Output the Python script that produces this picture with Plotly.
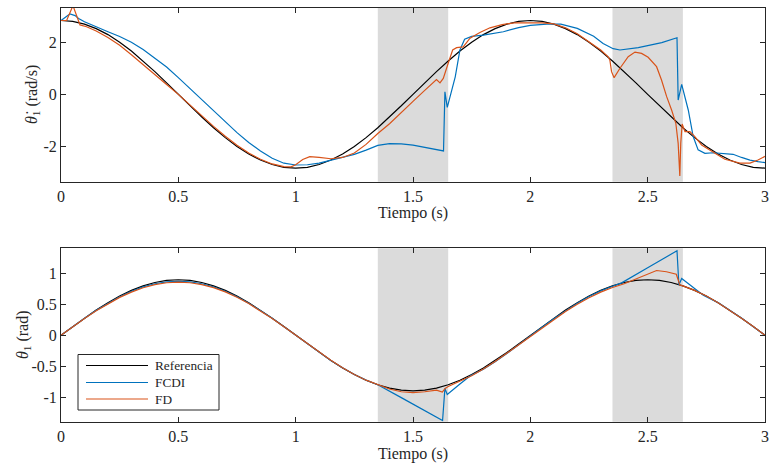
import plotly.graph_objects as go

# ---------------- data ----------------
t_ref = [0.00, 0.05, 0.10, 0.15, 0.20, 0.25, 0.30, 0.35, 0.40, 0.45, 0.50, 0.55, 0.60, 0.65, 0.70,
         0.75, 0.80, 0.85, 0.90, 0.95, 1.00, 1.05, 1.10, 1.15, 1.20, 1.25, 1.30, 1.35, 1.40, 1.45,
         1.50, 1.55, 1.60, 1.65, 1.70, 1.75, 1.80, 1.85, 1.90, 1.95, 2.00, 2.05, 2.10, 2.15, 2.20,
         2.25, 2.30, 2.35, 2.40, 2.45, 2.50, 2.55, 2.60, 2.65, 2.70, 2.75, 2.80, 2.85, 2.90, 2.95, 3.00]

ref_vel = [2.83, 2.80, 2.69, 2.52, 2.29, 2.00, 1.66, 1.28, 0.87, 0.44, 0.00, -0.44, -0.87, -1.28, -1.66,
           -2.00, -2.29, -2.52, -2.69, -2.80, -2.83, -2.80, -2.69, -2.52, -2.29, -2.00, -1.66, -1.28, -0.87, -0.44,
           0.00, 0.44, 0.87, 1.28, 1.66, 2.00, 2.29, 2.52, 2.69, 2.80, 2.83, 2.80, 2.69, 2.52, 2.29,
           2.00, 1.66, 1.28, 0.87, 0.44, 0.00, -0.44, -0.87, -1.28, -1.66, -2.00, -2.29, -2.52, -2.69, -2.80, -2.83]

ref_pos = [0.000, 0.141, 0.278, 0.409, 0.529, 0.636, 0.728, 0.802, 0.856, 0.889, 0.900, 0.889, 0.856, 0.802, 0.728,
           0.636, 0.529, 0.409, 0.278, 0.141, 0.000, -0.141, -0.278, -0.409, -0.529, -0.636, -0.728, -0.802, -0.856, -0.889,
           -0.900, -0.889, -0.856, -0.802, -0.728, -0.636, -0.529, -0.409, -0.278, -0.141, 0.000, 0.141, 0.278, 0.409, 0.529,
           0.636, 0.728, 0.802, 0.856, 0.889, 0.900, 0.889, 0.856, 0.802, 0.728, 0.636, 0.529, 0.409, 0.278, 0.141, 0.000]

t_fcdi_vel = [0, 0.02, 0.038, 0.06, 0.075, 0.10, 0.15, 0.20, 0.25, 0.30, 0.35, 0.40, 0.45, 0.50, 0.55, 0.60,
              0.65, 0.70, 0.75, 0.80, 0.85, 0.90, 0.95, 1.00, 1.05, 1.10, 1.15, 1.20, 1.25, 1.30, 1.35, 1.40,
              1.45, 1.50, 1.55, 1.60, 1.63, 1.636, 1.646, 1.68, 1.70, 1.72, 1.75, 1.80, 1.885, 1.95, 2.00,
              2.07, 2.13, 2.20, 2.27, 2.31, 2.353, 2.382, 2.46, 2.56, 2.625, 2.630, 2.645, 2.673, 2.694,
              2.715, 2.744, 2.78, 2.81, 2.864, 2.90, 2.936, 2.97, 3.00]
fcdi_vel = [2.83, 2.95, 3.08, 3.02, 2.91, 2.78, 2.58, 2.40, 2.22, 2.00, 1.72, 1.40, 1.05, 0.64, 0.21, -0.21,
            -0.64, -1.05, -1.47, -1.85, -2.17, -2.45, -2.64, -2.71, -2.70, -2.64, -2.53, -2.43, -2.30, -2.14, -1.96, -1.89,
            -1.90, -1.95, -2.03, -2.10, -2.17, 0.10, -0.50, 0.67, 1.70, 2.11, 2.22, 2.27, 2.40, 2.56, 2.64,
            2.69, 2.69, 2.53, 2.23, 1.95, 1.75, 1.70, 1.79, 1.98, 2.17, -0.22, 0.38, -0.60, -1.62,
            -2.13, -2.26, -2.24, -2.26, -2.30, -2.42, -2.52, -2.58, -2.62]

t_fd_vel = [0, 0.024, 0.051, 0.081, 0.109, 0.15, 0.20, 0.25, 0.30, 0.35, 0.40, 0.45, 0.50, 0.55, 0.60, 0.65,
            0.70, 0.75, 0.80, 0.85, 0.90, 0.95, 0.98, 1.00, 1.03, 1.06, 1.10, 1.15, 1.20, 1.25, 1.30, 1.35,
            1.40, 1.45, 1.50, 1.55, 1.60, 1.615, 1.629, 1.65, 1.669, 1.686, 1.714, 1.743, 1.785, 1.828, 1.88,
            1.93, 2.00, 2.05, 2.10, 2.15, 2.20, 2.25, 2.30, 2.332, 2.339, 2.346, 2.357, 2.382, 2.417, 2.446,
            2.474, 2.502, 2.538, 2.559, 2.581, 2.602, 2.62, 2.63, 2.637, 2.641, 2.647, 2.659, 2.68, 2.701,
            2.73, 2.787, 2.829, 2.893, 2.936, 2.97, 3.00]
fd_vel = [2.83, 2.83, 3.40, 2.66, 2.59, 2.43, 2.18, 1.88, 1.52, 1.15, 0.76, 0.38, 0.00, -0.41, -0.83, -1.23,
          -1.61, -1.95, -2.25, -2.49, -2.67, -2.77, -2.78, -2.70, -2.50, -2.39, -2.42, -2.47, -2.42, -2.25, -1.92, -1.50,
          -1.13, -0.68, -0.27, 0.15, 0.57, 0.44, 0.61, 1.19, 1.70, 1.79, 1.82, 2.15, 2.37, 2.55, 2.67,
          2.74, 2.75, 2.74, 2.70, 2.55, 2.32, 2.02, 1.70, 1.44, 1.31, 0.87, 0.64, 1.00, 1.44, 1.62,
          1.57, 1.42, 1.06, 0.55, -0.09, -0.60, -1.11, -1.88, -3.13, -1.88, -1.14, -1.43, -1.43, -1.62,
          -1.94, -2.26, -2.49, -2.64, -2.64, -2.52, -2.38]

t_fcdi_pos = [0.00, 0.05, 0.10, 0.15, 0.20, 0.25, 0.30, 0.35, 0.40, 0.45, 0.50, 0.55, 0.60, 0.65, 0.70,
              0.75, 0.80, 0.85, 0.90, 0.95, 1.00, 1.05, 1.10, 1.15, 1.20, 1.25, 1.30, 1.35,
              1.45, 1.55, 1.626, 1.636, 1.646, 1.70, 1.743, 1.80, 1.85, 1.90, 1.95, 2.00, 2.05, 2.10,
              2.15, 2.20, 2.25, 2.30, 2.35, 2.389, 2.50, 2.625, 2.633, 2.645, 2.70, 2.737, 2.80, 2.85,
              2.90, 2.95, 3.00]
fcdi_pos = [0.000, 0.140, 0.276, 0.404, 0.521, 0.624, 0.713, 0.784, 0.836, 0.866, 0.876, 0.866, 0.836, 0.785, 0.714,
            0.625, 0.521, 0.404, 0.275, 0.139, 0.000, -0.140, -0.277, -0.407, -0.527, -0.634, -0.726, -0.800,
            -1.01, -1.22, -1.38, -0.86, -0.96, -0.79, -0.66, -0.55, -0.43, -0.295, -0.15, -0.01, 0.13, 0.27,
            0.40, 0.52, 0.63, 0.72, 0.795, 0.85, 1.095, 1.37, 0.815, 0.92, 0.76, 0.65, 0.53, 0.41,
            0.28, 0.14, 0.00]

t_fd_pos = [0.00, 0.05, 0.10, 0.15, 0.20, 0.25, 0.30, 0.35, 0.40, 0.45, 0.50, 0.55, 0.60, 0.65, 0.70,
            0.75, 0.80, 0.85, 0.90, 0.95, 1.00, 1.05, 1.10, 1.15, 1.20, 1.25, 1.30, 1.35, 1.40, 1.45,
            1.50, 1.55, 1.60, 1.625, 1.637, 1.65, 1.70, 1.75, 1.80, 1.85, 1.90, 1.95, 2.00, 2.05, 2.10,
            2.15, 2.20, 2.25, 2.30, 2.35, 2.40, 2.417, 2.45, 2.50, 2.538, 2.58, 2.622, 2.637, 2.65, 2.70,
            2.75, 2.80, 2.85, 2.90, 2.95, 3.00]
fd_pos = [0.000, 0.138, 0.272, 0.399, 0.514, 0.615, 0.700, 0.770, 0.822, 0.852, 0.862, 0.852, 0.822, 0.772, 0.703,
          0.616, 0.514, 0.399, 0.272, 0.138, 0.000, -0.140, -0.276, -0.406, -0.527, -0.634, -0.727, -0.800, -0.870, -0.915,
          -0.930, -0.915, -0.890, -0.920, -0.860, -0.830, -0.745, -0.655, -0.545, -0.425, -0.290, -0.155, -0.015, 0.120, 0.255,
          0.385, 0.505, 0.610, 0.700, 0.775, 0.835, 0.860, 0.920, 0.990, 1.050, 1.030, 0.990, 0.815, 0.800, 0.728,
          0.636, 0.529, 0.409, 0.278, 0.141, 0.000]

shade_intervals = [(1.35, 1.65), (2.35, 2.65)]
x_ticks = [0, 0.5, 1, 1.5, 2, 2.5, 3]
x_ticklabels = ["0", "0.5", "1", "1.5", "2", "2.5", "3"]
y1_ticks = [-2, 0, 2]
y1_ticklabels = ["-2", "0", "2"]
y2_ticks = [-1, -0.5, 0, 0.5, 1]
y2_ticklabels = ["-1", "-0.5", "0", "0.5", "1"]
series_names = ["Referencia", "FCDI", "FD"]

# ---------------- styling ----------------
W, H = 770, 468
FONT = "Liberation Serif, Times New Roman, Times, DejaVu Serif, serif"
AX = "#262626"
C_REF, C_FCDI, C_FD = "#000000", "#0072BD", "#D95319"
LW = 1.2

def px_x(p):
    return p / W

def px_y(p):
    return 1 - p / H

fig = go.Figure()
for xs, ys, col, ax in [
    (t_ref, ref_vel, C_REF, ("x", "y")),
    (t_fcdi_vel, fcdi_vel, C_FCDI, ("x", "y")),
    (t_fd_vel, fd_vel, C_FD, ("x", "y")),
    (t_ref, ref_pos, C_REF, ("x2", "y2")),
    (t_fcdi_pos, fcdi_pos, C_FCDI, ("x2", "y2")),
    (t_fd_pos, fd_pos, C_FD, ("x2", "y2")),
]:
    fig.add_trace(go.Scatter(x=xs, y=ys, mode="lines", line=dict(color=col, width=LW),
                             xaxis=ax[0], yaxis=ax[1], showlegend=False, hoverinfo="skip"))

xdom = [px_x(61), px_x(765)]
common = dict(ticks="inside", ticklen=5, tickwidth=1, tickcolor=AX, showline=True, linecolor=AX,
              linewidth=1, mirror="ticks", showgrid=False, zeroline=False,
              tickfont=dict(family=FONT, size=16, color=AX), automargin=False)

fig.update_layout(
    width=W, height=H, margin=dict(l=0, r=0, t=0, b=0),
    paper_bgcolor="white", plot_bgcolor="white", showlegend=False,
    font=dict(family=FONT, color=AX),
    xaxis=dict(domain=xdom, anchor="y", range=[0, 3], tickvals=x_ticks, ticktext=x_ticklabels, **common),
    yaxis=dict(domain=[px_y(181.7), px_y(8)], anchor="x", range=[-3.35, 3.31],
               tickvals=y1_ticks, ticktext=y1_ticklabels, **common),
    xaxis2=dict(domain=xdom, anchor="y2", range=[0, 3], tickvals=x_ticks, ticktext=x_ticklabels, **common),
    yaxis2=dict(domain=[px_y(421.7), px_y(248.3)], anchor="x2", range=[-1.40, 1.41],
                tickvals=y2_ticks, ticktext=y2_ticklabels, **common),
)

# shaded intervals
for xr, yr in [("x", "y domain"), ("x2", "y2 domain")]:
    for a, b in shade_intervals:
        fig.add_shape(type="rect", xref=xr, yref=yr, x0=a, x1=b, y0=0, y1=1,
                      fillcolor="#dbdbdb", line=dict(width=0), layer="below")

# axis titles
tf = dict(family=FONT, size=16, color=AX)
fig.add_annotation(text="Tiempo (s)", xref="paper", yref="paper", x=px_x(413), y=px_y(213.5),
                   showarrow=False, font=tf, xanchor="center", yanchor="middle")
fig.add_annotation(text="Tiempo (s)", xref="paper", yref="paper", x=px_x(413), y=px_y(454),
                   showarrow=False, font=tf, xanchor="center", yanchor="middle")
fig.add_annotation(text="<i>θ\u0307</i><sub>1</sub> (rad/s)", xref="paper", yref="paper",
                   x=px_x(33), y=px_y(95), textangle=-90, showarrow=False, font=tf,
                   xanchor="center", yanchor="middle")
fig.add_annotation(text="<i>θ</i><sub>1</sub> (rad)", xref="paper", yref="paper",
                   x=px_x(23), y=px_y(335), textangle=-90, showarrow=False, font=tf,
                   xanchor="center", yanchor="middle")

# legend box (drawn like the MATLAB legend)
fig.add_shape(type="rect", xref="paper", yref="paper", x0=px_x(78), x1=px_x(219),
              y0=px_y(410), y1=px_y(354.5), fillcolor="white", line=dict(color=AX, width=1), layer="above")
for name, col, ypix in zip(series_names, [C_REF, C_FCDI, C_FD], [365.5, 382.5, 399]):
    fig.add_shape(type="line", xref="paper", yref="paper", x0=px_x(86), x1=px_x(148),
                  y0=px_y(ypix), y1=px_y(ypix), line=dict(color=col, width=LW), layer="above")
    fig.add_annotation(text=name, xref="paper", yref="paper", x=px_x(153), y=px_y(ypix),
                       showarrow=False, xanchor="left", yanchor="middle",
                       font=dict(family=FONT, size=13.3, color=AX))

fig.write_html("out.html")
